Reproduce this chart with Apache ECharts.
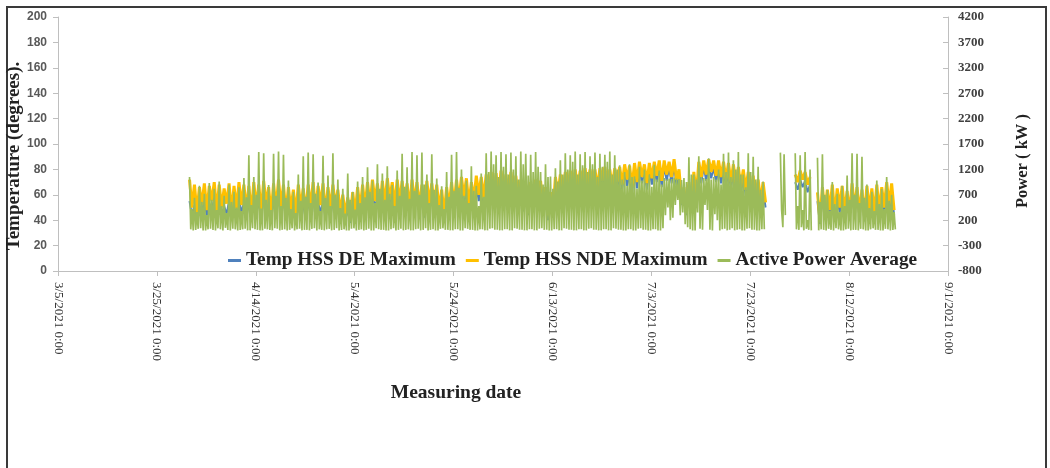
<!DOCTYPE html>
<html>
<head>
<meta charset="utf-8">
<script src="https://cdn.jsdelivr.net/npm/echarts@6/dist/echarts.min.js"></script>
<style>
  html, body { margin: 0; padding: 0; background: #fff; }
  #main { width: 1050px; height: 468px; }
</style>
</head>
<body>
<div id="main"></div>
<script>
// days counted from 3/5/2021
var tempStart = 26.6;   // temperatures: two readings per day
var tempStep = 0.5;
var powerStart = 26.6;  // power: four readings per day
var powerStep = 0.25;

// x axis: 3/5/2021 .. 9/1/2021, every 20 days
var xMin = 0, xMax = 180, xStep = 20;
var tempTicks = [0, 200, 20];      // min, max, interval
var powerTicks = [-800, 4200, 500];

// Active Power Average (kW) - peak, low, mid, low per day
var powerAvg = [
  1050,20,420,0, 640,10,360,30, 880,40,560,0, 720,0,300,20, 930,30,600,10,
  820,0,400,40, 960,20,480,0, 680,50,340,10, 900,0,560,30, 760,20,450,0,
  850,10,380,20, 1030,30,650,0, 1480,0,500,40, 1050,20,700,10, 1540,0,430,0,
  1520,30,600,20, 890,10,400,0, 1510,40,680,30, 1550,0,480,10, 1490,20,640,0,
  980,10,420,40, 760,0,340,20, 1100,30,580,0, 1460,10,660,10, 1530,0,540,30,
  1500,40,720,0, 940,20,380,10, 1470,0,640,20, 1080,30,480,0, 1520,10,700,40,
  1000,0,440,10, 820,20,330,0, 1120,0,600,30, 760,40,410,0, 960,10,540,20,
  1050,0,650,10, 1240,30,760,0, 980,0,540,40, 1300,20,820,10, 1120,10,600,0,
  1260,0,720,20, 890,40,480,0, 1180,10,680,30, 1510,0,860,10, 1240,20,620,0,
  1540,0,780,20, 1480,30,700,0, 1530,10,900,40, 1100,0,540,10, 1500,20,800,0,
  1020,0,500,30, 870,40,420,10, 1150,10,660,0, 1490,0,780,20, 1540,20,840,0,
  1200,0,680,40, 980,30,540,10, 1260,10,780,0, 880,0,480,20, 1120,20,660,0,
  1520,0,1150,30, 1550,40,1300,10, 1480,10,1050,0, 1540,0,1250,20, 1500,20,1100,0,
  1530,0,1200,40, 1460,30,1000,10, 1550,10,1300,0, 1510,0,1080,20, 1490,20,1150,0,
  1540,0,1250,30, 1150,40,900,10, 1300,10,1050,0, 1060,0,820,20, 1220,20,960,0,
  1380,0,1100,40, 1520,30,1200,10, 1480,10,1350,0, 1550,0,1100,20, 1500,20,1280,0,
  1540,0,1150,30, 1460,40,1300,10, 1530,10,1050,0, 1510,0,1250,20, 1490,20,1350,0,
  1550,0,1100,40, 1480,30,1200,10, 1280,10,1000,0, 1150,0,880,20, 1300,20,1050,0,
  1060,0,820,30, 1250,40,980,10, 1200,10,920,0, 1100,0,860,20, 1290,20,1000,0,
  1180,0,900,40, 1030,300,1000,450, 1020,200,1010,250, 1040,500,1020,600, 1010,300,990,350,
  1030,120,950,60, 1440,20,1100,0, 1100,0,1000,350, 1460,30,1050,10, 1030,500,1010,400,
  1420,10,1000,0, 1050,320,1000,200, 1200,0,900,20, 1510,30,1150,0, 1530,10,1050,40,
  1380,0,1200,10, 1540,20,1100,0, 1100,0,850,30, 1520,40,1150,10, 1450,10,1000,0,
  1250,0,800,20, 960,20,null,null, null,null,null,null, null,null,null,null, null,null,1530,400,
  60,1500,300,null, null,null,null,null, null,null,1520,20, 480,10,1480,60, 400,0,1540,30,
  200,10,1200,0, null,null,null,null, 1430,0,560,20, 1500,10,700,0, 800,30,380,10,
  950,0,520,40, 720,20,360,0, 880,0,480,20, 1080,30,600,0, 1520,10,700,10,
  1510,0,540,30, 1450,20,640,0, 900,0,440,20, 760,40,380,10, 980,10,520,0,
  820,0,420,30, 1050,20,580,0, 700,10,360,20
];

// Temp HSS NDE Maximum - high, low per day
var tempNde = [
  72,50, 68,46, 66,52, 69,48, 67,55, 70,47, 68,50, 65,53, 69,46, 67,49,
  70,52, 68,48, 67,45, 70,50, 68,47, 71,52, 66,44, 69,49, 72,51, 68,46,
  66,48, 64,44, 68,50, 65,46, 68,50, 70,47, 67,52, 69,45, 66,49, 68,51,
  64,46, 60,44, 58,42, 62,45, 66,48, 68,50, 70,52, 72,55, 69,50, 71,53,
  73,56, 70,51, 72,54, 71,52, 69,49, 72,54, 70,50, 68,47, 71,53, 69,51,
  68,48, 64,44, 66,50, 70,52, 72,55, 74,58, 73,52, 70,56, 75,60, 74,57,
  76,60, 78,62, 77,58, 79,64, 76,57, 78,61, 75,55, 72,52, 68,48, 70,54,
  72,58, 71,50, 66,44, 62,46, 74,60, 76,62, 78,66, 79,68, 80,64, 79,70,
  81,67, 80,69, 80,65, 81,71, 82,68, 80,66, 81,70, 82,68, 84,72, 83,66,
  85,70, 86,74, 84,69, 85,73, 86,75, 87,71, 87,76, 86,74, 88,72, 80,56,
  66,48, 70,50, 78,60, 86,74, 87,76, 88,78, 87,75, 87,74, 86,72, 85,70,
  84,68, 82,66, 80,64, 78,60, 75,58, 72,55, 70,54, null,null, null,null, null,null,
  null,null, null,null, null,76, 70,79, 72,78, 68,74, null,null, 62,40, 66,46, 64,48,
  68,44, 65,50, 67,47, 63,45, 69,49, 66,46, 64,43, 67,48, 65,45, 68,47,
  66,50, 70,52, 69,48
];

// Temp HSS DE Maximum - high, low per day
var tempDe = [
  55,44, 52,42, 50,46, 56,43, 53,47, 58,41, 54,44, 51,45, 55,42, 52,43,
  57,46, 54,42, 54,41, 57,44, 55,42, 58,46, 52,40, 56,43, 59,45, 55,42,
  53,43, 51,40, 56,44, 52,41, 55,44, 58,42, 54,46, 56,41, 53,43, 55,45,
  52,42, 50,40, 48,38, 51,41, 54,43, 56,45, 60,47, 62,50, 58,45, 61,48,
  63,51, 59,46, 62,49, 60,47, 58,44, 62,49, 59,45, 57,42, 61,48, 58,46,
  57,44, 53,40, 56,45, 60,47, 64,50, 66,53, 63,47, 61,51, 67,55, 65,52,
  70,55, 72,57, 69,53, 73,59, 68,52, 71,56, 67,50, 63,47, 58,44, 62,50,
  64,53, 60,46, 56,40, 54,42, 66,55, 70,57, 72,61, 74,63, 75,59, 73,65,
  76,62, 75,64, 74,60, 76,66, 77,63, 75,61, 76,65, 77,64, 79,67, 76,61,
  80,65, 81,69, 78,64, 80,68, 81,70, 82,66, 82,71, 81,69, 83,67, 74,52,
  60,44, 64,46, 72,55, 80,69, 82,71, 83,73, 81,70, 81,69, 80,67, 79,65,
  78,63, 76,61, 74,59, 72,55, 69,53, 66,50, 64,50, null,null, null,null, null,null,
  null,null, null,null, null,70, 64,72, 66,71, 62,68, null,null, 55,37, 58,42, 57,44,
  60,40, 58,46, 59,43, 56,41, 61,45, 58,42, 57,39, 59,44, 57,41, 60,43,
  58,46, 62,48, 61,44
];

function toPoints(arr, start, step) {
  return arr.map(function (v, i) {
    return [start + i * step, v];
  });
}

function dayLabel(v) {
  var d = new Date(2021, 2, 5 + v);
  return (d.getMonth() + 1) + '/' + d.getDate() + '/2021 0:00';
}

var chart = echarts.init(document.getElementById('main'));

var serif = 'Liberation Serif';

var option = {
  animation: false,
  backgroundColor: '#fff',
  color: ['#4f81bd', '#ffc000', '#9bbb59'],
  grid: {
    left: 58,
    right: 102,
    top: 17,
    bottom: 197,
    containLabel: false,
    outerBoundsMode: 'none'
  },
  legend: {
    top: 246,
    left: 223,
    itemWidth: 13,
    itemHeight: 3,
    itemGap: 10,
    icon: 'rect',
    textStyle: {
      fontFamily: serif,
      fontWeight: 'bold',
      fontSize: 19.3,
      color: '#222'
    },
    data: ['Temp HSS DE Maximum', 'Temp HSS NDE Maximum', 'Active Power Average']
  },
  graphic: [{
    type: 'rect',
    shape: { x: 7, y: 7, width: 1039, height: 470 },
    style: { fill: 'none', stroke: '#3a3a3a', lineWidth: 2 },
    silent: true
  }],
  xAxis: {
    type: 'value',
    min: xMin,
    max: xMax,
    interval: xStep,
    name: 'Measuring date',
    nameLocation: 'middle',
    nameGap: 112,
    nameTextStyle: {
      fontFamily: serif,
      fontWeight: 'bold',
      fontSize: 19.5,
      color: '#222',
      padding: [0, 94, 0, 0]
    },
    axisLine: { lineStyle: { color: '#bfbfbf', width: 1 } },
    axisTick: { show: true, length: 5, lineStyle: { color: '#bfbfbf' } },
    splitLine: { show: false },
    axisLabel: {
      rotate: -90,
      margin: 11,
      fontFamily: serif,
      fontSize: 13,
      color: '#333',
      formatter: dayLabel
    }
  },
  yAxis: [{
    type: 'value',
    position: 'left',
    min: tempTicks[0],
    max: tempTicks[1],
    interval: tempTicks[2],
    name: 'Temperature (degrees).',
    nameLocation: 'middle',
    nameRotate: 90,
    nameGap: 34,
    nameMoveOverlap: false,
    nameTextStyle: {
      fontFamily: serif,
      fontWeight: 'bold',
      fontSize: 19,
      color: '#222',
      padding: [0, 24, 0, 0]
    },
    axisLine: { show: true, lineStyle: { color: '#bfbfbf' } },
    axisTick: { show: true, length: 5, lineStyle: { color: '#bfbfbf' } },
    splitLine: { show: false },
    axisLabel: {
      margin: 11,
      fontFamily: 'Liberation Sans',
      fontWeight: 'bold',
      fontSize: 12,
      color: '#595959'
    }
  }, {
    type: 'value',
    position: 'right',
    min: powerTicks[0],
    max: powerTicks[1],
    interval: powerTicks[2],
    name: 'Power ( kW )',
    nameLocation: 'middle',
    nameRotate: 90,
    nameGap: 66,
    nameMoveOverlap: false,
    nameTextStyle: {
      fontFamily: serif,
      fontWeight: 'bold',
      fontSize: 16.5,
      color: '#222',
      padding: [0, 34, 0, 0]
    },
    axisLine: { show: true, lineStyle: { color: '#bfbfbf' } },
    axisTick: { show: true, length: 5, inside: true, lineStyle: { color: '#bfbfbf' } },
    splitLine: { show: false },
    axisLabel: {
      margin: 10,
      fontFamily: serif,
      fontWeight: 'bold',
      fontSize: 13,
      color: '#404040',
      formatter: function (v) { return String(v); }
    }
  }],
  series: [{
    name: 'Temp HSS DE Maximum',
    type: 'line',
    yAxisIndex: 0,
    showSymbol: false,
    symbol: 'none',
    lineStyle: { width: 2, color: '#4f81bd' },
    data: toPoints(tempDe, tempStart, tempStep)
  }, {
    name: 'Temp HSS NDE Maximum',
    type: 'line',
    yAxisIndex: 0,
    showSymbol: false,
    symbol: 'none',
    lineStyle: { width: 3, color: '#ffc000' },
    data: toPoints(tempNde, tempStart, tempStep)
  }, {
    name: 'Active Power Average',
    type: 'line',
    yAxisIndex: 1,
    showSymbol: false,
    symbol: 'none',
    lineStyle: { width: 1.7, color: '#9bbb59' },
    data: toPoints(powerAvg, powerStart, powerStep)
  }]
};

chart.setOption(option);
</script>
</body>
</html>
